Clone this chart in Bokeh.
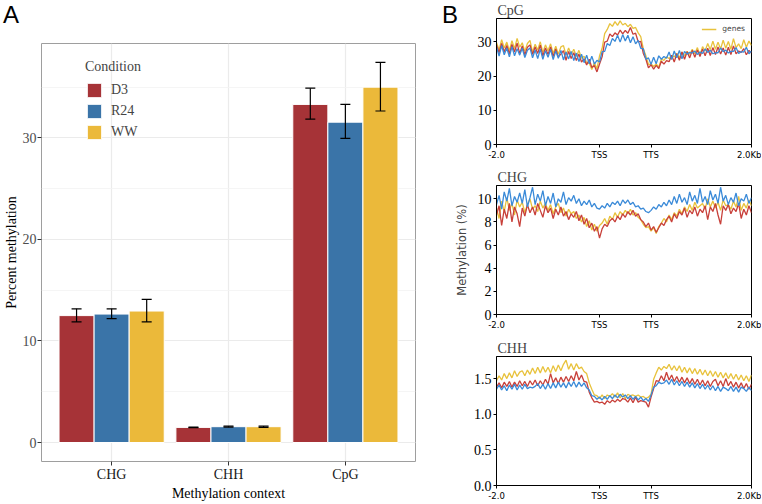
from bokeh.plotting import figure
from bokeh.models import (ColumnDataSource, FactorRange, Range1d, Whisker, TeeHead,
                          Legend, LegendItem, FixedTicker, SingleIntervalTicker, Div)
from bokeh.transform import dodge
from bokeh.layouts import row, column
from bokeh.embed import file_html
from bokeh.resources import INLINE

# ---------------- Panel A data ----------------
contexts = ["CHG", "CHH", "CpG"]
conditions = ["D3", "R24", "WW"]
d3_mean = [12.5, 1.49, 33.3]
d3_lo = [11.88, 1.46, 31.85]
d3_hi = [13.17, 1.52, 34.9]
r24_mean = [12.65, 1.56, 31.55]
r24_lo = [12.2, 1.51, 29.95]
r24_hi = [13.17, 1.61, 33.3]
ww_mean = [12.95, 1.56, 35.0]
ww_lo = [11.88, 1.50, 32.65]
ww_hi = [14.1, 1.62, 37.45]

# ---------------- Panel B data ----------------
bins = list(range(100))
b_tick_pos = [0, 40, 60, 99]
b_tick_labels = ["-2.0", "TSS", "TTS", "2.0Kb"]

cpg_ww = [29.8, 27.6, 30.6, 28.2, 29.9, 27.4, 30.3, 28.0, 31.0, 28.4,
          29.7, 27.2, 29.5, 30.4, 27.0, 29.3, 27.6, 30.0, 26.9, 29.1,
          27.4, 29.4, 26.6, 28.7, 26.4, 28.5, 28.9, 26.1, 28.2, 26.3,
          27.8, 25.7, 27.5, 25.2, 25.8, 23.9, 23.8, 21.9, 23.9, 22.1,
          25.9, 28.1, 32.4, 33.6, 35.3, 34.5, 35.9, 34.8, 36.1, 34.9,
          35.4, 34.4, 35.1, 33.9, 34.2, 32.6, 31.5, 28.0, 25.9, 23.4,
          23.5, 22.8, 23.5, 22.6, 24.9, 24.6, 25.6, 25.1, 26.0, 25.6,
          26.6, 25.4, 27.0, 25.9, 27.2, 26.3, 27.8, 26.5, 28.3, 26.1,
          28.6, 27.3, 29.5, 27.7, 30.2, 27.8, 29.9, 27.9, 30.5, 28.1,
          30.1, 27.8, 30.9, 28.3, 29.4, 28.0, 30.6, 28.4, 30.2, 28.9]
cpg_d3 = [29.1, 26.8, 29.5, 27.1, 28.9, 26.5, 29.2, 27.0, 29.6, 26.6,
          28.8, 26.2, 28.4, 29.1, 26.3, 28.5, 26.6, 29.0, 25.9, 28.2,
          26.3, 28.5, 25.7, 27.9, 25.6, 26.4, 27.4, 24.6, 27.2, 25.1,
          26.8, 24.5, 26.4, 24.1, 25.0, 23.2, 24.9, 22.5, 23.1, 21.2,
          23.5, 25.6, 29.9, 30.2, 32.3, 31.5, 32.6, 32.0, 33.4, 32.3,
          33.3, 32.5, 34.2, 32.2, 32.5, 30.0, 30.1, 26.6, 24.9, 22.4,
          23.3, 22.0, 23.1, 22.2, 24.3, 23.5, 24.5, 24.2, 26.1, 24.1,
          26.5, 24.6, 27.0, 24.9, 27.1, 25.3, 27.5, 25.5, 27.6, 25.7,
          27.9, 25.9, 28.1, 26.0, 28.3, 26.3, 28.5, 26.4, 28.2, 26.1,
          28.4, 26.3, 28.8, 26.5, 27.3, 26.9, 28.0, 26.2, 27.5, 26.7]
cpg_r24 = [28.5, 25.8, 28.9, 26.2, 28.2, 25.6, 28.6, 25.9, 28.0, 26.1,
           28.1, 25.4, 27.5, 28.2, 25.3, 27.6, 25.1, 27.9, 24.9, 27.4,
           25.5, 27.8, 24.8, 27.3, 25.2, 27.5, 24.7, 27.0, 25.0, 27.2,
           24.5, 26.7, 24.2, 26.4, 23.9, 26.1, 23.6, 25.8, 23.5, 24.6,
           24.1, 27.1, 27.2, 29.5, 28.9, 31.0, 30.1, 31.9, 29.9, 32.1,
           30.2, 31.9, 29.7, 31.5, 29.4, 30.4, 28.1, 28.0, 24.9, 25.3,
           23.4, 25.5, 23.6, 25.9, 24.9, 25.7, 25.2, 27.0, 24.8, 27.3,
           25.3, 27.5, 25.0, 27.2, 26.4, 26.9, 26.7, 27.3, 26.3, 27.0,
           26.6, 27.9, 26.9, 27.5, 26.5, 26.8, 26.8, 28.2, 27.1, 27.6,
           26.7, 27.2, 27.2, 28.3, 26.6, 27.1, 27.0, 28.4, 26.5, 27.3]

chg_ww = [9.2, 8.3, 9.8, 8.9, 10.1, 9.0, 9.6, 8.6, 9.9, 9.3,
          9.7, 8.8, 9.5, 10.0, 9.1, 9.4, 8.9, 9.8, 9.2, 9.6,
          9.0, 9.5, 8.7, 9.3, 9.6, 8.8, 9.2, 8.5, 9.1, 8.7,
          8.9, 8.3, 8.6, 8.0, 8.4, 7.6, 8.1, 7.3, 7.8, 7.2,
          7.7, 7.9, 8.3, 7.8, 8.5, 8.2, 8.8, 8.4, 8.9, 8.6,
          9.0, 8.7, 9.1, 8.6, 8.8, 8.4, 8.2, 7.8, 7.5, 7.6,
          7.2, 7.5, 7.0, 7.6, 7.9, 8.3, 8.0, 8.6, 8.2, 8.8,
          8.5, 9.1, 8.7, 9.3, 8.9, 9.5, 9.0, 9.7, 9.2, 9.4,
          9.6, 9.1, 10.0, 9.3, 9.8, 9.2, 9.7, 9.0, 9.9, 9.4,
          9.5, 9.1, 9.8, 9.3, 10.2, 9.0, 9.6, 9.2, 9.9, 9.4]
chg_d3 = [8.6, 9.4, 7.7, 9.1, 8.3, 9.6, 8.0, 9.3, 8.7, 7.6,
          9.2, 8.5, 9.5, 8.8, 9.3, 8.6, 9.6, 9.0, 8.4, 9.4,
          8.8, 9.2, 8.3, 9.1, 8.6, 9.3, 8.5, 8.9, 8.2, 8.7,
          8.4, 8.9, 8.1, 8.6, 7.8, 8.3, 7.5, 7.9, 7.2, 7.6,
          6.6, 7.4, 7.8, 7.6, 8.1, 8.3, 8.0, 8.5, 8.2, 8.7,
          8.4, 8.9, 8.6, 9.0, 8.5, 8.7, 8.2, 8.0, 7.6, 7.9,
          7.3, 7.6, 7.1, 7.5, 7.9, 7.7, 8.2, 8.5, 8.0, 8.7,
          8.3, 8.9, 8.6, 9.2, 8.4, 9.0, 8.7, 9.3, 8.5, 9.1,
          8.8, 9.4, 8.2, 9.3, 8.9, 9.6, 8.6, 7.8, 9.4, 9.0,
          9.5, 8.7, 9.2, 8.9, 9.6, 8.3, 9.1, 8.6, 9.4, 8.8]
chg_r24 = [9.5, 10.3, 9.1, 10.6, 9.8, 10.9, 9.4, 10.2, 9.7, 10.5,
           9.6, 10.8, 9.3, 10.1, 11.0, 9.5, 10.4, 9.8, 10.7, 9.4,
           10.2, 9.6, 10.5, 9.3, 10.0, 9.7, 10.6, 9.5, 10.1, 9.8,
           10.3, 9.6, 10.0, 9.4, 9.8, 9.5, 9.9, 9.3, 9.6, 9.2,
           9.1, 9.4, 9.2, 9.6, 9.3, 9.7, 9.5, 9.8, 9.4, 9.9,
           9.6, 9.9, 9.5, 9.7, 9.3, 9.4, 9.1, 9.2, 8.9, 8.8,
           9.0, 9.3, 9.1, 9.5, 9.3, 9.7, 9.4, 9.9, 9.5, 10.2,
           9.6, 10.4, 9.7, 10.1, 9.5, 10.6, 9.8, 10.3, 9.6, 10.9,
           9.7, 10.2, 9.5, 10.7, 9.9, 10.4, 9.6, 11.0, 9.8, 10.3,
           9.5, 10.1, 9.7, 10.5, 9.4, 10.0, 9.8, 10.4, 9.6, 10.1]

chh_ww = [1.47, 1.54, 1.48, 1.57, 1.50, 1.58, 1.51, 1.61, 1.53, 1.59,
          1.61, 1.54, 1.62, 1.56, 1.65, 1.57, 1.66, 1.58, 1.67, 1.59,
          1.66, 1.58, 1.68, 1.60, 1.69, 1.61, 1.70, 1.76, 1.63, 1.71,
          1.62, 1.71, 1.64, 1.66, 1.60, 1.57, 1.44, 1.35, 1.27, 1.26,
          1.22, 1.27, 1.22, 1.27, 1.25, 1.29, 1.24, 1.30, 1.23, 1.29,
          1.22, 1.28, 1.26, 1.27, 1.25, 1.27, 1.24, 1.25, 1.22, 1.24,
          1.28, 1.49, 1.58, 1.66, 1.62, 1.67, 1.64, 1.70, 1.62, 1.68,
          1.61, 1.68, 1.59, 1.66, 1.58, 1.65, 1.57, 1.64, 1.56, 1.63,
          1.55, 1.62, 1.54, 1.61, 1.53, 1.60, 1.52, 1.59, 1.51, 1.58,
          1.50, 1.57, 1.49, 1.56, 1.48, 1.55, 1.47, 1.54, 1.46, 1.55]
chh_d3 = [1.38, 1.44, 1.37, 1.45, 1.39, 1.46, 1.38, 1.45, 1.39, 1.47,
          1.40, 1.46, 1.39, 1.47, 1.41, 1.48, 1.40, 1.47, 1.41, 1.49,
          1.42, 1.57, 1.44, 1.51, 1.43, 1.52, 1.45, 1.53, 1.46, 1.54,
          1.47, 1.60, 1.48, 1.55, 1.46, 1.45, 1.31, 1.23, 1.17, 1.18,
          1.16, 1.17, 1.14, 1.19, 1.16, 1.20, 1.17, 1.21, 1.18, 1.22,
          1.21, 1.17, 1.23, 1.16, 1.24, 1.17, 1.19, 1.18, 1.17, 1.10,
          1.24, 1.36, 1.47, 1.46, 1.54, 1.47, 1.59, 1.48, 1.55, 1.46,
          1.53, 1.45, 1.52, 1.44, 1.51, 1.43, 1.50, 1.42, 1.49, 1.41,
          1.48, 1.40, 1.47, 1.39, 1.46, 1.49, 1.40, 1.47, 1.39, 1.50,
          1.40, 1.46, 1.38, 1.45, 1.37, 1.44, 1.36, 1.43, 1.35, 1.42]
chh_r24 = [1.35, 1.41, 1.34, 1.40, 1.33, 1.41, 1.35, 1.42, 1.34, 1.41,
           1.35, 1.42, 1.36, 1.38, 1.37, 1.39, 1.43, 1.36, 1.42, 1.35,
           1.43, 1.36, 1.44, 1.37, 1.45, 1.38, 1.44, 1.37, 1.45, 1.39,
           1.46, 1.38, 1.45, 1.39, 1.44, 1.37, 1.34, 1.26, 1.25, 1.21,
           1.24, 1.20, 1.25, 1.21, 1.26, 1.22, 1.27, 1.23, 1.28, 1.24,
           1.27, 1.22, 1.26, 1.21, 1.25, 1.20, 1.24, 1.19, 1.22, 1.18,
           1.27, 1.38, 1.40, 1.45, 1.43, 1.44, 1.48, 1.42, 1.49, 1.41,
           1.47, 1.40, 1.46, 1.39, 1.45, 1.38, 1.44, 1.37, 1.43, 1.36,
           1.42, 1.35, 1.41, 1.34, 1.40, 1.33, 1.39, 1.32, 1.38, 1.36,
           1.33, 1.39, 1.32, 1.38, 1.31, 1.38, 1.36, 1.32, 1.38, 1.33]

SERIF = "Liberation Serif"
SANS = "DejaVu Sans"
A_COLORS = ["#A63337", "#3A74A8", "#EBB93A"]
B_RED, B_BLUE, B_YELLOW = "#C8403A", "#3A8AD8", "#E8C23C"

def panel_letter(letter, width, height, pad_left):
    html = ('<div style="font-family: \'Liberation Sans\', Arial, sans-serif; font-size: 24px; '
            'line-height: 30px; padding-left: %dpx; color: black;">%s</div>' % (pad_left, letter))
    return Div(text=html, width=width, height=height, margin=(0, 0, 0, 0))

# ---------------- Panel A ----------------
pA = figure(width=440, height=473,
            x_range=FactorRange(factors=contexts, range_padding=0.1, range_padding_units="absolute"),
            y_range=Range1d(-1.87, 39.3),
            output_backend="svg", toolbar_location=None,
            min_border_left=37, min_border_right=25, min_border_top=13, min_border_bottom=30)

means = [d3_mean, r24_mean, ww_mean]
los = [d3_lo, r24_lo, ww_lo]
his = [d3_hi, r24_hi, ww_hi]
offsets = [-0.3, 0.0, 0.3]
renderers = []
for cond, m, lo, hi, col, off in zip(conditions, means, los, his, A_COLORS, offsets):
    src = ColumnDataSource(dict(ctx=contexts, mean=m, lo=lo, hi=hi))
    r = pA.vbar(x=dodge("ctx", off, range=pA.x_range), top="mean", bottom=0, width=0.3,
                fill_color=col, line_color="white", line_width=1, source=src)
    renderers.append(r)
    w = Whisker(base=dodge("ctx", off, range=pA.x_range), upper="hi", lower="lo", source=src,
                line_color="black", line_width=1.2, level="overlay",
                upper_head=TeeHead(size=10, line_width=1.2, line_color="black"),
                lower_head=TeeHead(size=10, line_width=1.2, line_color="black"))
    pA.add_layout(w)

pA.outline_line_color = "#9E9E9E"
pA.outline_line_width = 1
pA.yaxis.ticker = SingleIntervalTicker(interval=10, num_minor_ticks=2)
pA.ygrid.grid_line_color = "#EBEBEB"
pA.ygrid.grid_line_width = 1.2
pA.ygrid.minor_grid_line_color = "#F3F3F3"
pA.ygrid.minor_grid_line_width = 0.8
pA.xgrid.grid_line_color = "#EBEBEB"
pA.xgrid.grid_line_width = 1.2
for ax in (pA.xaxis[0], pA.yaxis[0]):
    ax.axis_line_color = None
    ax.major_tick_line_color = "#333333"
    ax.major_tick_out = 4
    ax.major_tick_in = 0
    ax.minor_tick_line_color = None
    ax.major_label_text_font = SERIF
    ax.major_label_text_font_size = "14px"
    ax.axis_label_text_font = SERIF
    ax.axis_label_text_font_size = "14px"
    ax.axis_label_text_font_style = "normal"
    ax.axis_label_text_color = "black"
    ax.major_label_standoff = 1
    ax.axis_label_standoff = 1
pA.yaxis.major_label_text_color = "#4D4D4D"
pA.xaxis.major_label_text_color = "#1A1A1A"
pA.yaxis.axis_label = "Percent methylation"
pA.xaxis.axis_label = "Methylation context"

legA = Legend(items=[LegendItem(label=c, renderers=[r]) for c, r in zip(conditions, renderers)],
              title="Condition", location=(44, 320),
              glyph_width=18, glyph_height=18, label_height=18, spacing=3, padding=0, margin=0,
              background_fill_alpha=0, border_line_alpha=0,
              label_text_font=SERIF, label_text_font_size="14px",
              title_text_font=SERIF, title_text_font_size="14px", title_text_font_style="normal",
              title_standoff=6, label_standoff=8)
pA.add_layout(legA)

# ---------------- Panel B ----------------
STRIP = 23

def profile(name, ymax, yticks, ylabels, ww, d3, r24, width, height, left, top, bottom, ylab=None):
    p = figure(width=width, height=height, x_range=Range1d(0, 99), y_range=Range1d(0, ymax),
               output_backend="svg", toolbar_location=None,
               min_border_left=left, min_border_right=10, min_border_top=top, min_border_bottom=bottom)
    p.title.text = name
    p.title.text_font = SERIF
    p.title.text_font_size = "14px"
    p.title.text_font_style = "normal"
    p.title.align = "left"
    p.title.offset = 1
    p.title.standoff = 1
    src = ColumnDataSource(dict(x=bins, ww=ww, d3=d3, r24=r24))
    ry = p.line("x", "ww", source=src, line_color=B_YELLOW, line_width=1.3)
    p.line("x", "d3", source=src, line_color=B_RED, line_width=1.3)
    p.line("x", "r24", source=src, line_color=B_BLUE, line_width=1.3)
    p.grid.visible = False
    p.outline_line_color = "black"
    p.outline_line_width = 1
    p.xaxis.ticker = FixedTicker(ticks=b_tick_pos)
    p.xaxis.major_label_overrides = dict(zip(b_tick_pos, b_tick_labels))
    p.xaxis.major_label_text_font = SANS
    p.xaxis.major_label_text_font_size = "8.5px"
    p.yaxis.ticker = FixedTicker(ticks=yticks)
    p.yaxis.major_label_overrides = dict(zip(yticks, ylabels))
    p.yaxis.major_label_text_font = SERIF
    p.yaxis.major_label_text_font_size = "14px"
    for ax in (p.xaxis[0], p.yaxis[0]):
        ax.axis_line_color = "black"
        ax.major_tick_line_color = "black"
        ax.major_tick_out = 3
        ax.major_tick_in = 0
        ax.minor_tick_line_color = None
        ax.major_label_standoff = 2
        ax.major_label_text_color = "black"
    if ylab:
        p.yaxis.axis_label = ylab
        p.yaxis.axis_label_text_font = SANS
        p.yaxis.axis_label_text_font_size = "11.5px"
        p.yaxis.axis_label_text_font_style = "normal"
        p.yaxis.axis_label_standoff = 6
    return p, ry

p1, ry1 = profile("CpG", 36.8, [0, 10, 20, 30], ["0", "10", "20", "30"],
                  cpg_ww, cpg_d3, cpg_r24, 321 - STRIP, 166, 56 - STRIP, 16, 22)
p2, _ = profile("CHG", 11.15, [0, 2, 4, 6, 8, 10], ["0", "2", "4", "6", "8", "10"],
                chg_ww, chg_d3, chg_r24, 321, 169, 56, 19, 21, ylab="Methylation (%)")
p3, _ = profile("CHH", 1.81, [0, 0.5, 1.0, 1.5], ["0.0", "0.5", "1.0", "1.5"],
                chh_ww, chh_d3, chh_r24, 321, 168, 56, 21, 18)

legB = Legend(items=[LegendItem(label="genes", renderers=[ry1])], location="top_right",
              glyph_width=15, glyph_height=8, label_height=8, padding=4, margin=2,
              background_fill_alpha=0, border_line_alpha=0,
              label_text_font=SANS, label_text_font_size="7.5px", label_standoff=6)
p1.add_layout(legB)

divA = panel_letter("A", 440, 30, 3)
divB = panel_letter("B", STRIP, 166, 2)

layout = row(column(divA, pA), column(row(divB, p1), p2, p3))
open("out.html", "w").write(file_html(layout, INLINE))
